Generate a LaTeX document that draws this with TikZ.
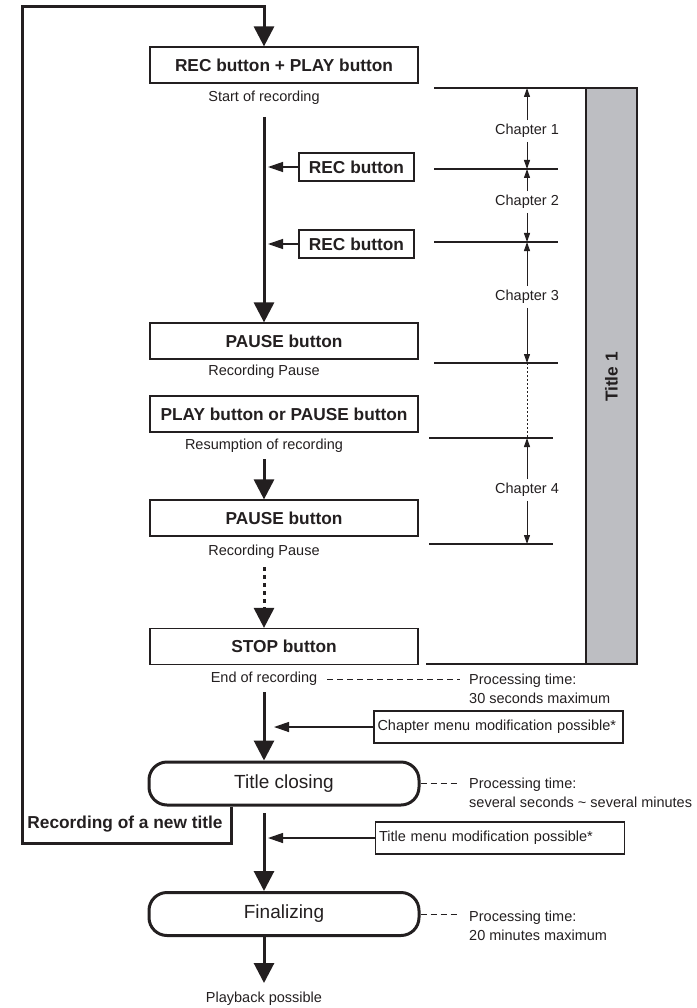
\documentclass[tikz,border=0pt]{standalone}
\usepackage{fontspec}
\setmainfont{Liberation Sans}
\usetikzlibrary{arrows.meta}
\definecolor{ink}{RGB}{35,31,32}
\definecolor{barfill}{RGB}{189,190,194}

\begin{document}
\begin{tikzpicture}[x=1pt,y=-1pt,ink,
  btn/.style={draw,line width=1.2pt,minimum width=268pt,minimum height=36pt,inner sep=0pt,font=\bfseries\fontsize{17.3}{20}\selectfont},
  recbtn/.style={draw,line width=1.2pt,minimum width=115pt,minimum height=28pt,inner sep=0pt,font=\bfseries\fontsize{17.3}{20}\selectfont},
  menubox/.style={draw,line width=1.2pt,minimum height=32pt,text width=242pt,inner xsep=3.5pt,inner ysep=0pt,align=left,font=\fontsize{14.5}{18}\selectfont},
  stage/.style={draw,line width=3pt,rounded corners=18pt,minimum width=270pt,minimum height=43pt,font=\fontsize{19}{22}\selectfont},
  note/.style={font=\fontsize{14.5}{18}\selectfont,inner sep=2pt},
  proc/.style={font=\fontsize{14.5}{19}\selectfont,align=left,anchor=west,inner sep=0pt},
  flow/.style={line width=3pt,-{Triangle[length=20pt,width=20pt]}},
  side/.style={line width=1.3pt,-{Triangle[length=15pt,width=10pt]}},
  dim/.style={line width=1pt,-{Triangle[length=9pt,width=6pt]}},
  lead/.style={line width=1pt,dash pattern=on 6pt off 4pt}]
  \useasboundingbox (0,0) rectangle (696,1008);
  % recording steps
  \node[btn] (recplay) at (284,65) {REC button + PLAY button};
  \node[note] (start) at (264,98) {Start of recording};
  \node[recbtn] (rec1) at (356.5,167) {REC button};
  \node[recbtn] (rec2) at (356.5,244) {REC button};
  \node[btn] (pause1) at (284,341) {PAUSE button};
  \node[note] (rp1) at (264,372) {Recording Pause};
  \node[btn] (resume) at (284,414) {PLAY button or PAUSE button};
  \node[note] (resum) at (264,446) {Resumption of recording};
  \node[btn] (pause2) at (284,518) {PAUSE button};
  \node[note] (rp2) at (264,552) {Recording Pause};
  \node[btn] (stop) at (284,646.5) {STOP button};
  \node[note] (endrec) at (264,679) {End of recording};
  \node[stage] (closing) at (284,783.5) {Title closing};
  \node[stage] (final) at (284,914) {Finalizing};
  \node[note] (playback) at (264,999) {Playback possible};
  \node[menubox] (chmenu) at (498.5,727) {Chapter menu modification possible*};
  \node[menubox] (ttmenu) at (500,838) {Title menu modification possible*};
  \node[font=\bfseries\fontsize{17.3}{20}\selectfont] (newtitle) at (125,824) {Recording of a new title};
  % processing times
  \node[proc] (pt1) at (469,689) {Processing time:\\30 seconds maximum};
  \node[proc] (pt2) at (469,793) {Processing time:\\several seconds \textasciitilde{} several minutes};
  \node[proc] (pt3) at (469,926) {Processing time:\\20 minutes maximum};
  \draw[lead,shorten <=8pt,shorten >=9pt] (endrec.east) -- (pt1.west |- endrec.east);
  \draw[lead,shorten >=9pt] (closing.east) -- (pt2.west |- closing.east);
  \draw[lead,shorten >=9pt] (final.east) -- (pt3.west |- final.east);
  % main flow
  \coordinate (s1) at (264,117);
  \coordinate (s2) at (264,459);
  \coordinate (s3) at (264,567);
  \coordinate (s4) at (264,692);
  \coordinate (s5) at (264,813);
  \coordinate (s6) at (264,983);
  \draw[flow] (s1) -- (s1 |- pause1.north);
  \draw[flow] (s2) -- (s2 |- pause2.north);
  \draw[flow,dash pattern=on 4pt off 4pt] (s3) -- (s3 |- stop.north);
  \draw[flow] (s4) -- (s4 |- closing.north);
  \draw[flow] (s5) -- (s5 |- final.north);
  \draw[flow] (s5 |- final.south) -- (s6);
  \draw[side,shorten >=4pt] (rec1.west) -- (rec1.west -| s1);
  \draw[side,shorten >=4pt] (rec2.west) -- (rec2.west -| s1);
  \draw[side,shorten >=10pt] (chmenu.west) -- (chmenu.west -| s4);
  \draw[side,shorten >=4pt] (ttmenu.west) -- (ttmenu.west -| s5);
  % loop back for a new title
  \coordinate (lp) at (22,7);
  \coordinate (rn) at (231,843);
  \draw[flow] (rn |- closing.south) -- (rn) -- (lp |- rn) -- (lp) -- (lp -| s1) -- (s1 |- recplay.north);
  % title bar and chapters
  \draw[line width=1.2pt,fill=barfill] (586,88) rectangle (637,664);
  \node[font=\bfseries\fontsize{17.3}{20}\selectfont,rotate=90] (title) at (611.5,377) {Title 1};
  \foreach \n/\y/\xa/\xb in {1/88/434/586, 2/169/434/558, 3/242/434/558, 4/363/434/558, 5/438/429/553, 6/544/429/553, 7/664/426/586}
    {\draw[line width=1.2pt] (\xa,\y) -- (\xb,\y); \coordinate (m\n) at (527,\y);}
  \foreach \n/\y/\a/\b in {1/131/1/2, 2/202/2/3, 3/297/3/4, 4/490/5/6}
    {\node[note,inner sep=4pt] (ch\n) at (527,\y) {Chapter \n};
     \draw[dim] (ch\n) -- (m\a); \draw[dim] (ch\n) -- (m\b);}
  \draw[line width=1pt,dash pattern=on 2pt off 2pt] (m4) -- (m5);
\end{tikzpicture}
\end{document}
